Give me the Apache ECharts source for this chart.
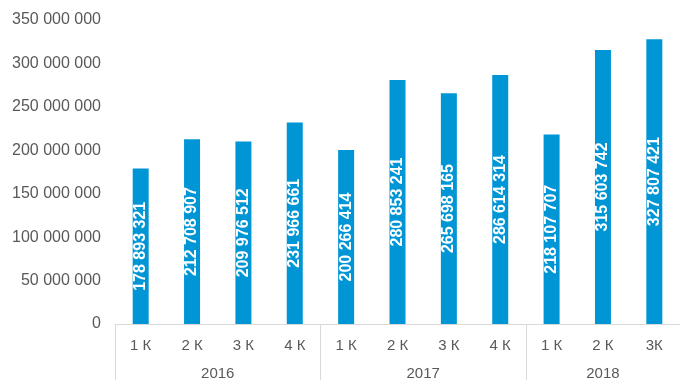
<!DOCTYPE html>
<html>
<head>
<meta charset="utf-8">
<script src="https://cdn.jsdelivr.net/npm/echarts@6/dist/echarts.min.js"></script>
<style>
html,body{margin:0;padding:0;background:#fff;}
#c{width:684px;height:381px;}
</style>
</head>
<body>
<div id="c"></div>
<script>
var quarters = ['1 К','2 К','3 К','4 К','1 К','2 К','3 К','4 К','1 К','2 К','3К'];
var values = [178893321, 212708907, 209976512, 231966661, 200266414, 280853241, 265698165, 286614314, 218107707, 315603742, 327807421];
var years = ['2016','2017','2018'];
var yearCenters = [1.5, 5.5, 9];
var yearBounds = [-0.5, 3.5, 7.5];

function fmt(n){ return String(n).replace(/\B(?=(\d{3})+(?!\d))/g, ' '); }

var FONT = 'Liberation Sans, Arial, sans-serif';
var chart = echarts.init(document.getElementById('c'), null, {renderer:'canvas'});
chart.setOption({
  animation:false,
  grid:{left:115, right:4, top:20, bottom:56, containLabel:false},
  xAxis:[{
    type:'category',
    data:quarters,
    position:'bottom',
    axisLine:{show:true, lineStyle:{color:'#d9d9d9', width:1}},
    axisTick:{show:false},
    axisLabel:{color:'#595959', fontSize:15, fontFamily:FONT, margin:14, interval:0}
  },{
    type:'value',
    min:-0.5, max:10.5,
    position:'bottom',
    axisLine:{show:false},
    splitLine:{show:false},
    axisTick:{show:true, customValues:yearBounds, length:56, lineStyle:{color:'#d9d9d9'}},
    axisLabel:{show:true, customValues:yearCenters, color:'#595959', fontSize:15, fontFamily:FONT, margin:42,
      formatter:function(v){ var i = yearCenters.indexOf(v); return i>=0 ? years[i] : ''; }}
  }],
  yAxis:{
    type:'value',
    min:0, max:350000000, interval:50000000,
    axisLine:{show:false},
    axisTick:{show:false},
    splitLine:{show:false},
    axisLabel:{color:'#595959', fontSize:16, fontFamily:FONT, margin:14, formatter:function(v){return fmt(v);}}
  },
  series:[{
    type:'bar',
    xAxisIndex:0,
    data:values,
    barWidth:16,
    itemStyle:{color:'#0096d6'},
    label:{show:true, position:'inside', rotate:90, color:'#fff', fontWeight:'bold', fontSize:16, fontFamily:FONT,
      formatter:function(p){return fmt(p.value);}}
  }]
});
</script>
</body>
</html>
